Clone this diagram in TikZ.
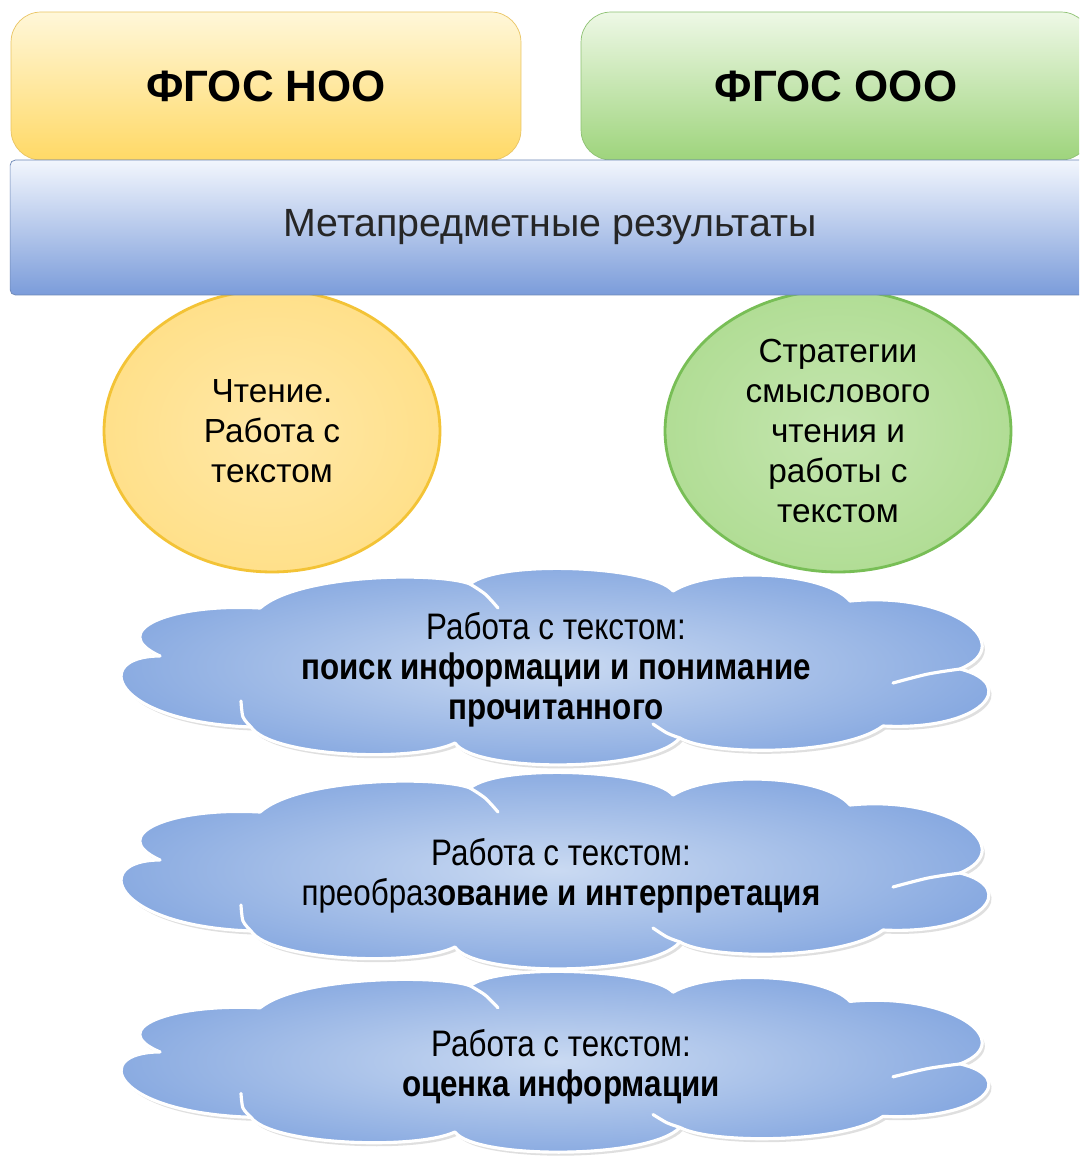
\documentclass[tikz,border=0pt]{standalone}
\usepackage{fontspec}
\setmainfont{Liberation Sans}
\newfontfamily\narrowfont[FakeStretch=0.85]{Liberation Sans}
\usetikzlibrary{shapes.geometric,shadows}
\definecolor{yelltop}{HTML}{FFF7D9}
\definecolor{yellbot}{HTML}{FFD966}
\definecolor{yelledge}{HTML}{E9C462}
\definecolor{greentop}{HTML}{EEF8E6}
\definecolor{greenbot}{HTML}{9ED47C}
\definecolor{greenedge}{HTML}{8DC172}
\definecolor{bartop}{HTML}{F2F6FD}
\definecolor{barbot}{HTML}{7B9CDA}
\definecolor{baredge}{HTML}{6C87B6}
\definecolor{ovyell}{HTML}{FFE08A}
\definecolor{ovyelledge}{HTML}{F3C336}
\definecolor{ovgreen}{HTML}{B1DD95}
\definecolor{ovgreenedge}{HTML}{78BE56}
\definecolor{cloudin}{HTML}{CADAF2}
\definecolor{cloudout}{HTML}{86A8E0}
\tikzset{
  cloudpic/.pic={
    \path[draw=white,line width=1.8pt,line join=round,inner color=cloudin,outer color=cloudout,
      drop shadow={opacity=0.25,shadow xshift=1.5pt,shadow yshift=-2pt}]
      (-393,-12) .. controls +(-70,0) and +(-140,-5) .. (-302,59)
      .. controls +(20,30) and +(-40,20) .. (-98,75)
      .. controls +(20,30) and +(-30,35) .. (127,70)
      .. controls +(30,18) and +(-40,30) .. (330,58)
      .. controls +(100,5) and +(60,15) .. (407,1)
      .. controls +(60,-25) and +(100,-10) .. (297,-67)
      .. controls +(-25,-30) and +(40,-25) .. (120,-77)
      .. controls +(-20,-25) and +(30,-25) .. (-83,-84)
      .. controls +(-30,-12) and +(40,-35) .. (-293,-60)
      .. controls +(-90,-5) and +(-55,-25) .. (-393,-12) -- cycle;
    \draw[white,line width=1.8pt,line cap=round] plot[smooth] coordinates{(-312,33)(-310,49)(-302,59)};
    \draw[white,line width=1.8pt,line cap=round] plot[smooth] coordinates{(-83,-84)(-68,-74)(-55,-60)};
    \draw[white,line width=1.8pt,line cap=round] plot[smooth] coordinates{(100,56)(114,65)(127,70)};
    \draw[white,line width=1.8pt,line cap=round] plot[smooth] coordinates{(407,1)(375,6)(340,15)};
  }
}
\begin{document}
\begin{tikzpicture}[x=0.02cm,y=-0.02cm,
  topbox/.style={rounded corners=0.6cm,minimum width=10.2cm,minimum height=2.96cm,font=\fontsize{25}{30}\selectfont\bfseries},
  oval/.style={ellipse,line width=1.6pt,inner sep=0pt,minimum height=5.64cm,align=center,font=\fontsize{19}{22.7}\selectfont},
  cloudtext/.style={align=center,inner sep=0pt,font=\narrowfont\fontsize{21}{22.7}\selectfont}]
\clip (0,0) rectangle (1079,1156);
\fill[white] (0,0) rectangle (1079,1156);
\node[oval,draw=ovyelledge,inner color=ovyell!75!white,outer color=ovyell,minimum width=6.72cm](reading) at (272,431){Чтение.\\Работа с\\текстом};
\node[oval,draw=ovgreenedge,inner color=ovgreen!75!white,outer color=ovgreen,minimum width=6.92cm](strategy) at (838,431){Стратегии\\смыслового\\чтения и\\работы с\\текстом};
\node[topbox,draw=yelledge,top color=yelltop,bottom color=yellbot](noo) at (266,86){ФГОС НОО};
\node[topbox,draw=greenedge,top color=greentop,bottom color=greenbot](ooo) at (836,86){ФГОС ООО};
\node[draw=baredge,rounded corners=3pt,top color=bartop,bottom color=barbot,minimum width=21.6cm,minimum height=2.7cm,
  font=\fontsize{22.4}{26}\selectfont,text=black!85](meta) at (550,227.5){Метапредметные результаты};
\pic at (553,668){cloudpic};
\pic at (553,872){cloudpic};
\pic[yscale=0.92] at (553,1063){cloudpic};
\node[cloudtext](search) at (556,670){Работа с текстом:\\\textbf{поиск информации и понимание}\\\textbf{прочитанного}};
\node[cloudtext](interp) at (561,876){Работа с текстом:\\преобраз\textbf{ование и интерпретация}};
\node[cloudtext](assess) at (561,1067){Работа с текстом:\\\textbf{оценка информации}};
\end{tikzpicture}
\end{document}
